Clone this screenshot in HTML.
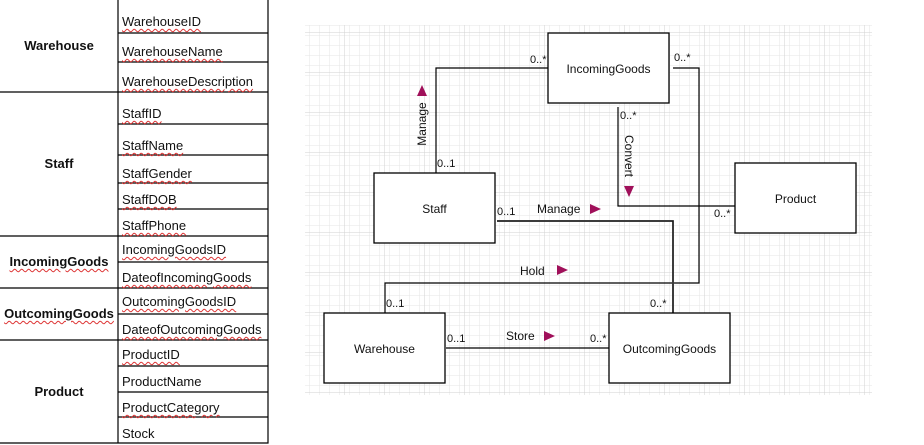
<!DOCTYPE html>
<html><head><meta charset="utf-8"><style>
body{margin:0;width:924px;height:445px;background:#fff;overflow:hidden;font-family:"Liberation Sans",Arial,sans-serif;position:relative}
.t{position:absolute;font-size:13px;color:#111;white-space:nowrap}
.w{text-decoration:underline wavy #d33;text-decoration-thickness:1px;text-underline-offset:2px}
.b{font-weight:bold}
</style></head><body>
<svg width="924" height="445" style="position:absolute;left:0;top:0">
<defs>
<pattern id="g1" width="10" height="10" patternUnits="userSpaceOnUse" x="305" y="33"><path d="M10 0V10M0 10H10" stroke="#e6e6e6" stroke-width="1" fill="none"/></pattern>
<pattern id="g2" width="40" height="40" patternUnits="userSpaceOnUse" x="305" y="33"><rect width="40" height="40" fill="url(#g1)"/><path d="M40 0V40M0 40H40" stroke="#d2d2d2" stroke-width="1" fill="none"/></pattern>
</defs>
<rect x="305" y="25" width="567" height="370" fill="url(#g2)"/>
<!-- table -->
<g stroke="#000" stroke-width="1.2" fill="none">
<polyline points="268,0 268,443 0,443"/>
<line x1="118" y1="0" x2="118" y2="443"/>
<line x1="0" y1="92" x2="268" y2="92"/>
<line x1="0" y1="236" x2="268" y2="236"/>
<line x1="0" y1="288" x2="268" y2="288"/>
<line x1="0" y1="340" x2="268" y2="340"/>
<g>
<line x1="118" y1="33" x2="268" y2="33"/><line x1="118" y1="62" x2="268" y2="62"/>
<line x1="118" y1="124" x2="268" y2="124"/><line x1="118" y1="155" x2="268" y2="155"/><line x1="118" y1="183" x2="268" y2="183"/><line x1="118" y1="209" x2="268" y2="209"/>
<line x1="118" y1="262" x2="268" y2="262"/><line x1="118" y1="314" x2="268" y2="314"/>
<line x1="118" y1="366" x2="268" y2="366"/><line x1="118" y1="392" x2="268" y2="392"/><line x1="118" y1="417" x2="268" y2="417"/>
</g>
</g>
<!-- connectors -->
<g stroke="#000" stroke-width="1.2" fill="none">
<polyline points="436,173 436,68 552,68"/>
<polyline points="673,68 699,68 699,283 385,283 385,313"/>
<polyline points="618,107 618,206 740,206"/>
<polyline points="446,348 612,348"/>
</g>
<polyline points="497,221 673,221 673,313" stroke="#777" stroke-width="2" fill="none"/>
<polyline points="497,221 673,221 673,313" stroke="#000" stroke-width="1" fill="none"/>
<!-- boxes -->
<g stroke="#000" stroke-width="1.3" fill="#fff">
<rect x="548" y="33" width="121" height="70"/>
<rect x="374" y="173" width="121" height="70"/>
<rect x="735" y="163" width="121" height="70"/>
<rect x="324" y="313" width="121" height="70"/>
<rect x="609" y="313" width="121" height="70"/>
</g>
<!-- arrows -->
<g fill="#a0105a">
<polygon points="417,96 427,96 422,85"/>
<polygon points="624,186 634,186 629,197"/>
<polygon points="590,204 590,214 601,209"/>
<polygon points="557,265 557,275 568,270"/>
<polygon points="544,331 544,341 555,336"/>
</g>
</svg>
<!-- table text -->
<div class="t b" style="left:0;width:118px;text-align:center;top:38px">Warehouse</div>
<div class="t w" style="left:122px;top:14px">WarehouseID</div>
<div class="t w" style="left:122px;top:44px">WarehouseName</div>
<div class="t w" style="left:122px;top:74px">WarehouseDescription</div>
<div class="t b" style="left:0;width:118px;text-align:center;top:156px">Staff</div>
<div class="t w" style="left:122px;top:106px">StaffID</div>
<div class="t w" style="left:122px;top:138px">StaffName</div>
<div class="t w" style="left:122px;top:166px">StaffGender</div>
<div class="t w" style="left:122px;top:192px">StaffDOB</div>
<div class="t w" style="left:122px;top:218px">StaffPhone</div>
<div class="t b w" style="left:0;width:118px;text-align:center;top:254px">IncomingGoods</div>
<div class="t w" style="left:122px;top:242px">IncomingGoodsID</div>
<div class="t w" style="left:122px;top:270px">DateofIncomingGoods</div>
<div class="t b w" style="left:0;width:118px;text-align:center;top:306px">OutcomingGoods</div>
<div class="t w" style="left:122px;top:294px">OutcomingGoodsID</div>
<div class="t w" style="left:122px;top:322px">DateofOutcomingGoods</div>
<div class="t b" style="left:0;width:118px;text-align:center;top:384px">Product</div>
<div class="t w" style="left:122px;top:347px">ProductID</div>
<div class="t" style="left:122px;top:374px">ProductName</div>
<div class="t w" style="left:122px;top:400px">ProductCategory</div>
<div class="t" style="left:122px;top:426px">Stock</div>
<!-- diagram text -->
<div class="t" style="left:548px;width:121px;text-align:center;top:62px;font-size:12px">IncomingGoods</div>
<div class="t" style="left:374px;width:121px;text-align:center;top:202px;font-size:12px">Staff</div>
<div class="t" style="left:735px;width:121px;text-align:center;top:192px;font-size:12px">Product</div>
<div class="t" style="left:324px;width:121px;text-align:center;top:342px;font-size:12px">Warehouse</div>
<div class="t" style="left:609px;width:121px;text-align:center;top:342px;font-size:12px">OutcomingGoods</div>
<div class="t" style="left:530px;top:54px;font-size:11px">0..*</div>
<div class="t" style="left:674px;top:52px;font-size:11px">0..*</div>
<div class="t" style="left:437px;top:158px;font-size:11px">0..1</div>
<div class="t" style="left:620px;top:110px;font-size:11px">0..*</div>
<div class="t" style="left:714px;top:208px;font-size:11px">0..*</div>
<div class="t" style="left:497px;top:206px;font-size:11px">0..1</div>
<div class="t" style="left:386px;top:298px;font-size:11px">0..1</div>
<div class="t" style="left:650px;top:298px;font-size:11px">0..*</div>
<div class="t" style="left:447px;top:333px;font-size:11px">0..1</div>
<div class="t" style="left:590px;top:333px;font-size:11px">0..*</div>
<div class="t" style="left:537px;top:202px;font-size:12px">Manage</div>
<div class="t" style="left:520px;top:264px;font-size:12px">Hold</div>
<div class="t" style="left:506px;top:329px;font-size:12px">Store</div>
<div class="t" style="left:399px;top:117px;font-size:12px;transform:rotate(-90deg);width:46px;text-align:center">Manage</div>
<div class="t" style="left:606px;top:149px;font-size:12px;transform:rotate(90deg);width:46px;text-align:center">Convert</div>
</body></html>
